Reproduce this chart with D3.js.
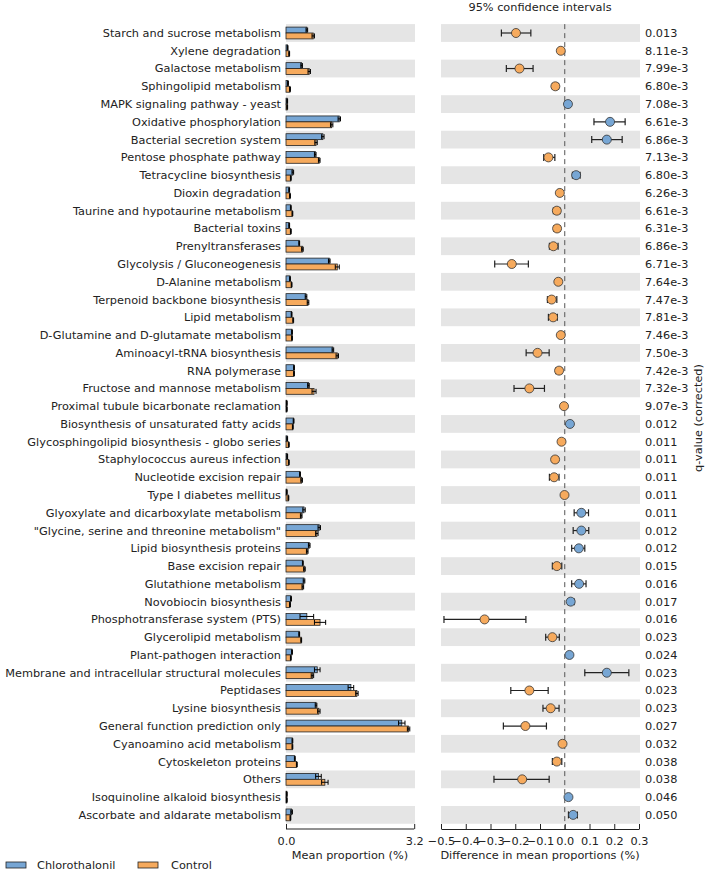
<!DOCTYPE html>
<html><head><meta charset="utf-8">
<script src="https://cdn.jsdelivr.net/npm/d3@7"></script>
<style>body{margin:0;background:#fff;} svg{display:block;font-family:"DejaVu Sans",sans-serif;}</style>
</head><body>
<svg id="chart" width="708" height="873"></svg>
<script>
const categories = ["Starch and sucrose metabolism","Xylene degradation","Galactose metabolism","Sphingolipid metabolism","MAPK signaling pathway - yeast","Oxidative phosphorylation","Bacterial secretion system","Pentose phosphate pathway","Tetracycline biosynthesis","Dioxin degradation","Taurine and hypotaurine metabolism","Bacterial toxins","Prenyltransferases","Glycolysis / Gluconeogenesis","D-Alanine metabolism","Terpenoid backbone biosynthesis","Lipid metabolism","D-Glutamine and D-glutamate metabolism","Aminoacyl-tRNA biosynthesis","RNA polymerase","Fructose and mannose metabolism","Proximal tubule bicarbonate reclamation","Biosynthesis of unsaturated fatty acids","Glycosphingolipid biosynthesis - globo series","Staphylococcus aureus infection","Nucleotide excision repair","Type I diabetes mellitus","Glyoxylate and dicarboxylate metabolism","\"Glycine, serine and threonine metabolism\"","Lipid biosynthesis proteins","Base excision repair","Glutathione metabolism","Novobiocin biosynthesis","Phosphotransferase system (PTS)","Glycerolipid metabolism","Plant-pathogen interaction","Membrane and intracellular structural molecules","Peptidases","Lysine biosynthesis","General function prediction only","Cyanoamino acid metabolism","Cytoskeleton proteins","Others","Isoquinoline alkaloid biosynthesis","Ascorbate and aldarate metabolism"];
const chlorothalonil = [0.52,0.04,0.39,0.05,0.03,1.33,0.92,0.73,0.17,0.08,0.12,0.08,0.33,1.08,0.10,0.50,0.14,0.15,1.17,0.20,0.56,0.02,0.19,0.03,0.03,0.35,0.02,0.45,0.83,0.58,0.42,0.45,0.125,0.52,0.33,0.15,0.78,1.62,0.75,2.89,0.16,0.22,0.81,0.02,0.14];
const control = [0.68,0.08,0.58,0.10,0.03,1.14,0.75,0.83,0.12,0.10,0.16,0.12,0.41,1.28,0.14,0.55,0.18,0.15,1.28,0.20,0.70,0.02,0.17,0.07,0.07,0.39,0.06,0.38,0.77,0.53,0.46,0.42,0.10,0.85,0.38,0.12,0.66,1.77,0.82,3.06,0.16,0.27,0.97,0.02,0.11];
const chlorothalonilErr = [0.02,0.01,0.02,0.01,0.01,0.03,0.03,0.02,0.02,0.01,0.01,0.01,0.01,0.02,0.01,0.02,0.01,0.01,0.02,0.01,0.02,0.01,0.01,0.01,0.01,0.01,0.01,0.03,0.03,0.02,0.01,0.02,0.01,0.17,0.01,0.01,0.07,0.07,0.02,0.08,0.01,0.01,0.07,0.01,0.02];
const controlErr = [0.03,0.01,0.03,0.01,0.01,0.03,0.03,0.02,0.01,0.01,0.01,0.01,0.02,0.05,0.01,0.02,0.01,0.01,0.03,0.01,0.05,0.01,0.01,0.01,0.01,0.02,0.01,0.02,0.03,0.02,0.02,0.02,0.01,0.14,0.01,0.01,0.03,0.03,0.03,0.03,0.01,0.01,0.08,0.01,0.01];
const diffMean = [-0.197,-0.016,-0.183,-0.038,0.013,0.183,0.170,-0.066,0.046,-0.020,-0.032,-0.031,-0.046,-0.214,-0.026,-0.053,-0.047,-0.016,-0.110,-0.023,-0.143,-0.003,0.021,-0.013,-0.039,-0.043,-0.001,0.067,0.067,0.057,-0.032,0.058,0.024,-0.324,-0.050,0.019,0.170,-0.143,-0.057,-0.159,-0.009,-0.032,-0.172,0.015,0.034];
const diffLow = [-0.256,-0.020,-0.236,-0.050,0.008,0.118,0.109,-0.085,0.031,-0.028,-0.046,-0.044,-0.062,-0.283,-0.034,-0.070,-0.066,-0.022,-0.156,-0.036,-0.205,-0.006,0.013,-0.018,-0.050,-0.062,-0.004,0.038,0.034,0.028,-0.050,0.028,0.013,-0.488,-0.077,0.011,0.081,-0.218,-0.088,-0.248,-0.014,-0.050,-0.286,0.010,0.015];
const diffHigh = [-0.137,-0.012,-0.128,-0.025,0.018,0.244,0.232,-0.040,0.062,-0.012,-0.019,-0.019,-0.027,-0.147,-0.016,-0.032,-0.030,-0.010,-0.063,-0.012,-0.082,0.000,0.029,-0.008,-0.028,-0.023,0.002,0.096,0.097,0.081,-0.012,0.086,0.038,-0.157,-0.022,0.027,0.259,-0.067,-0.023,-0.074,-0.004,-0.012,-0.063,0.020,0.051];
const qValues = ["0.013","8.11e-3","7.99e-3","6.80e-3","7.08e-3","6.61e-3","6.86e-3","7.13e-3","6.80e-3","6.26e-3","6.61e-3","6.31e-3","6.86e-3","6.71e-3","7.64e-3","7.47e-3","7.81e-3","7.46e-3","7.50e-3","7.42e-3","7.32e-3","9.07e-3","0.012","0.011","0.011","0.011","0.011","0.011","0.012","0.012","0.015","0.016","0.017","0.016","0.023","0.024","0.023","0.023","0.023","0.027","0.032","0.038","0.038","0.046","0.050"];
const groups = ["Chlorothalonil","Control"];
const barTicks = [0.0, 3.2];
const diffTicks = [-0.5,-0.4,-0.3,-0.2,-0.1,0.0,0.1,0.2,0.3];

const BLUE = "#77a6d4", ORANGE = "#f6aa5d", BAND = "#e5e5e5", INK = "#222";
const FS = "11.3px";
const svg = d3.select("#chart");
const step = 17.77, top0 = 33 - step/2;
const y = d3.scaleBand().domain(categories).range([top0, top0 + step*categories.length]).padding(0);
const xBar = d3.scaleLinear().domain([0, 3.22]).range([286, 415]);
const xDiff = d3.scaleLinear().domain([-0.5, 0.3]).range([441, 639]);
const axisY = 829;

// bands
const rows = categories.map((c,i)=>({c,i}));
svg.append("g").selectAll("rect").data(rows.filter(d=>d.i%2===0)).join("rect")
  .attr("x", xBar.range()[0]).attr("width", xBar.range()[1]-xBar.range()[0])
  .attr("y", d=>y(d.c)).attr("height", y.bandwidth()).attr("fill", BAND);
svg.append("g").selectAll("rect").data(rows.filter(d=>d.i%2===0)).join("rect")
  .attr("x", 441).attr("width", 199)
  .attr("y", d=>y(d.c)).attr("height", y.bandwidth()).attr("fill", BAND);

// labels
svg.append("g").selectAll("text").data(rows).join("text")
  .attr("x", 281).attr("y", d=>y(d.c)+y.bandwidth()/2).attr("dy","0.35em")
  .attr("text-anchor","end").attr("font-size",FS).attr("fill",INK).text(d=>d.c);

// bars
const bh = 5.9;
const bars = svg.append("g");
rows.forEach(d=>{
  const cy = y(d.c)+y.bandwidth()/2;
  [[chlorothalonil, chlorothalonilErr, BLUE, cy-bh],[control, controlErr, ORANGE, cy]].forEach(([vals, errs, col, yy])=>{
    const v = vals[d.i];
    bars.append("rect").attr("x", xBar(0)).attr("y", yy).attr("width", Math.max(0.6, xBar(v)-xBar(0))).attr("height", bh)
      .attr("fill", col).attr("stroke", INK).attr("stroke-width", 0.8);
    const e = errs[d.i];
    const ey = yy + bh/2;
    bars.append("line").attr("x1", xBar(v-e)).attr("x2", xBar(v+e)).attr("y1", ey).attr("y2", ey).attr("stroke","#000").attr("stroke-width",1);
    [v-e, v+e].forEach(t=>bars.append("line").attr("x1", xBar(t)).attr("x2", xBar(t)).attr("y1", ey-2.5).attr("y2", ey+2.5).attr("stroke","#000").attr("stroke-width",1));
  });
});

// dashed zero line
svg.append("line").attr("x1", xDiff(0)).attr("x2", xDiff(0)).attr("y1", top0).attr("y2", axisY)
  .attr("stroke","#555").attr("stroke-width",1).attr("stroke-dasharray","5,4");

// CIs
const ci = svg.append("g");
rows.forEach(d=>{
  const cy = y(d.c)+y.bandwidth()/2;
  const lo = xDiff(diffLow[d.i]), hi = xDiff(diffHigh[d.i]);
  ci.append("line").attr("x1",lo).attr("x2",hi).attr("y1",cy).attr("y2",cy).attr("stroke",INK).attr("stroke-width",1.2);
  [lo,hi].forEach(x=>ci.append("line").attr("x1",x).attr("x2",x).attr("y1",cy-3.5).attr("y2",cy+3.5).attr("stroke",INK).attr("stroke-width",1.2));
  ci.append("circle").attr("cx", xDiff(diffMean[d.i])).attr("cy", cy).attr("r", 4.5)
    .attr("fill", diffMean[d.i] > 0 ? BLUE : ORANGE).attr("stroke", "#333").attr("stroke-width", 0.8);
});

// q values
svg.append("g").selectAll("text").data(rows).join("text")
  .attr("x", 645).attr("y", d=>y(d.c)+y.bandwidth()/2).attr("dy","0.35em")
  .attr("font-size",FS).attr("fill",INK).text(d=>qValues[d.i]);

svg.append("text").attr("transform","translate(702,418) rotate(-90)").attr("text-anchor","middle")
  .attr("font-size",FS).attr("fill",INK).text("q-value (corrected)");

svg.append("text").attr("x", 540).attr("y", 11).attr("text-anchor","middle").attr("font-size",FS).attr("fill",INK).text("95% confidence intervals");

// axes
function styleAxis(g){
  g.select(".domain").attr("stroke", INK);
  g.selectAll(".tick line").attr("stroke", INK);
  g.selectAll(".tick text").attr("font-size",FS).attr("fill",INK).attr("font-family","DejaVu Sans, sans-serif");
}
const ax1 = svg.append("g").attr("transform",`translate(0,${axisY})`)
  .call(d3.axisBottom(xBar).tickValues(barTicks).tickFormat(d3.format(".1f")).tickSizeInner(-5).tickSizeOuter(0).tickPadding(8));
styleAxis(ax1);
ax1.select(".domain").attr("d", `M${xBar(0)},0H${xBar(3.2)}`);
const fmt = d => d===0 ? "0.0" : d3.format(".1f")(d).replace("-", "\u2212");
const ax2 = svg.append("g").attr("transform",`translate(0,${axisY})`)
  .call(d3.axisBottom(xDiff).tickValues(diffTicks).tickFormat(fmt).tickSizeInner(-5).tickSizeOuter(0).tickPadding(8));
styleAxis(ax2);

svg.append("text").attr("x", 350).attr("y", 859).attr("text-anchor","middle").attr("font-size",FS).attr("fill",INK).text("Mean proportion (%)");
svg.append("text").attr("x", 540).attr("y", 859).attr("text-anchor","middle").attr("font-size",FS).attr("fill",INK).text("Difference in mean proportions (%)");

// legend
const lg = svg.append("g");
[[groups[0], BLUE, 6, 37],[groups[1], ORANGE, 138, 171]].forEach(([t,c,rx,tx])=>{
  lg.append("rect").attr("x",rx).attr("y",862).attr("width",20).attr("height",6).attr("fill",c).attr("stroke",INK).attr("stroke-width",0.8);
  lg.append("text").attr("x",tx).attr("y",869).attr("font-size",FS).attr("fill",INK).text(t);
});
</script>
</body></html>
